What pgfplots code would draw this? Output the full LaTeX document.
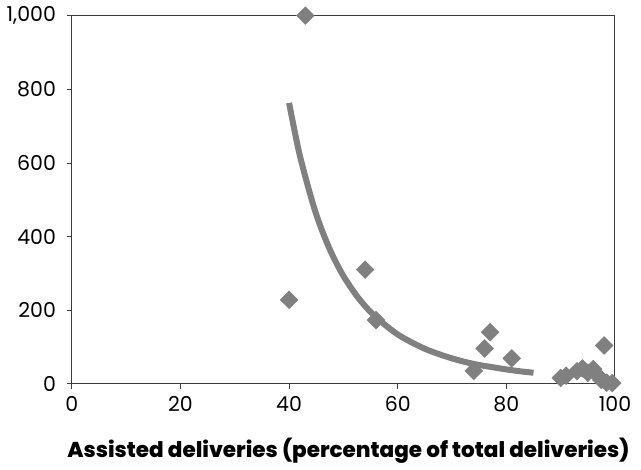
\documentclass[border=0pt]{standalone}
\usepackage{pgfplots}
\pgfplotsset{compat=1.18}
\usepackage{fontspec}
\setmainfont{Poppins}
\newfontfamily\heavyfont{Poppins ExtraBold}
\definecolor{markgray}{RGB}{128,128,128}
\definecolor{axisgray}{RGB}{60,60,60}

\begin{document}
\fontsize{20}{24}\selectfont
\begin{tikzpicture}
\begin{axis}[
  scale only axis,
  width=543pt, height=368pt,
  xmin=0, xmax=100, ymin=0, ymax=1000,
  xtick={0,20,...,100}, ytick={0,200,...,1000},
  tick align=outside, tick pos=left,
  major tick length=5pt,
  axis line style={axisgray, line width=1pt},
  tick style={axisgray, line width=0.8pt},
  /pgf/number format/assume math mode=true,
  /pgf/number format/1000 sep={,},
  tick label style={font=\fontsize{20.5}{24}\selectfont},
  xticklabel style={yshift=-1pt},
  yticklabel style={xshift=-4pt},
  xlabel={\heavyfont Assisted deliveries (percentage of total deliveries)},
  xlabel style={font=\fontsize{21.5}{25}\selectfont, yshift=-12pt, xshift=5pt},
  clip=false,
]
% Fitted trend (power curve) through the scatter
\addplot[markgray, line width=6pt, smooth, tension=0.5, no marks] coordinates {
  (40,763) (41,688) (42,619) (43.5,535) (45,460) (46.5,400) (48,349)
  (50,293) (52.5,238) (55,195) (57.5,162) (60,134) (62.5,113)
  (65,95) (67.5,81) (70,69) (72.5,59) (75,51) (77.5,45) (80,39)
  (82.5,34) (85,30)
};
% Country observations
\addplot[only marks, mark=square*, mark size=6.3pt,
  mark options={rotate=45, fill=markgray, draw=markgray}] coordinates {
  (40,228) (43,1000) (54,310) (56,173)
  (74,35) (76,96) (77,140) (81,69)
  (90,16) (91,22) (93,34) (94,42) (95,30) (96,40) (97,20)
  (98,104) (97.5,10) (98.5,3) (99.5,2)
};
% white margin on the right
\path (rel axis cs:1,0) ++(26pt,0pt);
\end{axis}
\end{tikzpicture}
\end{document}
